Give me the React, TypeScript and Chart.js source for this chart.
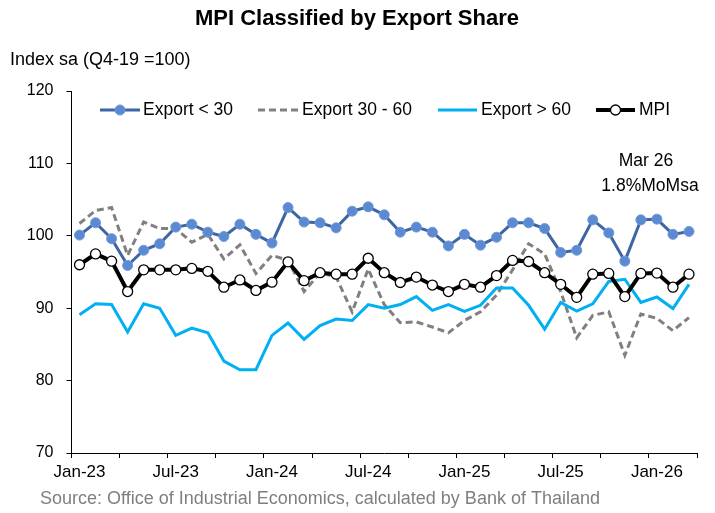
import React, { useEffect, useRef } from 'react';
import { Chart, registerables } from 'chart.js';

Chart.register(...registerables);

const FONT = "'Liberation Sans', Arial, sans-serif";

const TITLE = 'MPI Classified by Export Share';
const Y_TITLE = 'Index sa (Q4-19 =100)';
const SOURCE = 'Source: Office of Industrial Economics, calculated by Bank of Thailand';
const NOTE_LINES = ['Mar 26', '1.8%MoMsa'];

const months = [
  'Jan-23', 'Feb-23', 'Mar-23', 'Apr-23', 'May-23', 'Jun-23', 'Jul-23', 'Aug-23', 'Sep-23', 'Oct-23', 'Nov-23', 'Dec-23',
  'Jan-24', 'Feb-24', 'Mar-24', 'Apr-24', 'May-24', 'Jun-24', 'Jul-24', 'Aug-24', 'Sep-24', 'Oct-24', 'Nov-24', 'Dec-24',
  'Jan-25', 'Feb-25', 'Mar-25', 'Apr-25', 'May-25', 'Jun-25', 'Jul-25', 'Aug-25', 'Sep-25', 'Oct-25', 'Nov-25', 'Dec-25',
  'Jan-26', 'Feb-26', 'Mar-26',
];

const exportLt30 = [
  100.1, 101.8, 99.6, 95.9, 98.0, 98.9, 101.2, 101.6, 100.5, 99.9, 101.6, 100.2,
  99.0, 103.9, 101.9, 101.8, 101.1, 103.4, 104.0, 102.9, 100.5, 101.2, 100.5, 98.6,
  100.2, 98.7, 99.8, 101.8, 101.8, 101.0, 97.7, 98.0, 102.2, 100.4, 96.5, 102.2,
  102.3, 100.2, 100.6,
];

const export30to60 = [
  101.7, 103.5, 103.9, 97.3, 101.9, 101.0, 101.0, 99.1, 100.2, 96.8, 98.75, 94.8,
  97.3, 96.6, 92.3, 94.9, 94.3, 89.5, 95.4, 90.5, 88.0, 88.1, 87.4, 86.6,
  88.3, 89.5, 91.8, 95.3, 98.9, 97.5, 92.3, 85.9, 89.0, 89.5, 83.5, 89.2,
  88.6, 86.9, 88.7,
];

const exportGt60 = [
  89.1, 90.6, 90.5, 86.7, 90.6, 90.0, 86.25, 87.25, 86.6, 82.7, 81.5, 81.5,
  86.25, 87.95, 85.7, 87.6, 88.5, 88.3, 90.5, 90.0, 90.5, 91.6, 89.7, 90.5,
  89.55, 90.4, 92.8, 92.8, 90.4, 87.1, 90.8, 89.6, 90.6, 93.7, 94.0, 90.8,
  91.55, 89.95, 93.3,
];

const mpi = [
  96.0, 97.5, 96.5, 92.3, 95.3, 95.3, 95.3, 95.5, 95.1, 92.9, 93.9, 92.45,
  93.6, 96.4, 93.8, 94.9, 94.7, 94.7, 96.9, 94.9, 93.55, 94.3, 93.2, 92.3,
  93.3, 92.9, 94.5, 96.6, 96.45, 94.9, 93.3, 91.5, 94.7, 94.8, 91.6, 94.8,
  94.85, 92.9, 94.7,
];

const seriesNames = ['Export < 30', 'Export 30 - 60', 'Export > 60', 'MPI'];

const BLUE_LINE = '#3E66A3';
const BLUE_DOT = '#5B8AD2';
const GREY = '#808080';
const LIGHT_BLUE = '#00B0F0';

const textPlugin = {
  id: 'customTexts',
  afterDraw(chart: any) {
    const ctx = chart.ctx as CanvasRenderingContext2D;
    ctx.save();
    ctx.textBaseline = 'middle';

    // Title
    ctx.fillStyle = '#000';
    ctx.font = `bold 22px ${FONT}`;
    ctx.textAlign = 'center';
    ctx.fillText(TITLE, 357, 19);

    // Y axis title
    ctx.font = `18px ${FONT}`;
    ctx.textAlign = 'left';
    ctx.fillText(Y_TITLE, 10, 60);

    // Note
    ctx.textAlign = 'center';
    ctx.font = `17.5px ${FONT}`;
    ctx.fillText(NOTE_LINES[0], 646, 161);
    ctx.fillText(NOTE_LINES[1], 650, 186);

    // Source
    ctx.fillStyle = '#7F7F7F';
    ctx.textAlign = 'left';
    ctx.font = `18px ${FONT}`;
    ctx.fillText(SOURCE, 40, 499);

    // Legend
    const ly = 110;
    const items = [
      { x0: 100, x1: 140, tx: 143 },
      { x0: 258, x1: 298, tx: 302 },
      { x0: 438, x1: 477, tx: 481 },
      { x0: 596, x1: 635, tx: 639 },
    ];
    const ds = chart.data.datasets;
    items.forEach((it, k) => {
      const d = ds.find((q: any) => q.label === seriesNames[k]);
      ctx.save();
      ctx.strokeStyle = d.borderColor;
      ctx.lineWidth = d.borderWidth;
      ctx.setLineDash(d.borderDash || []);
      ctx.lineCap = 'butt';
      ctx.beginPath();
      ctx.moveTo(it.x0, ly);
      ctx.lineTo(it.x1, ly);
      ctx.stroke();
      ctx.setLineDash([]);
      if (d.pointRadius > 0) {
        ctx.beginPath();
        ctx.arc((it.x0 + it.x1) / 2, ly, d.pointRadius, 0, Math.PI * 2);
        ctx.fillStyle = d.pointBackgroundColor;
        ctx.fill();
        ctx.lineWidth = d.pointBorderWidth;
        ctx.strokeStyle = d.pointBorderColor;
        ctx.stroke();
      }
      ctx.restore();
      ctx.fillStyle = '#000';
      ctx.font = `17.5px ${FONT}`;
      ctx.textAlign = 'left';
      ctx.fillText(seriesNames[k], it.tx, ly);
    });

    ctx.restore();
  },
};

export default function App() {
  const canvasRef = useRef<HTMLCanvasElement | null>(null);

  useEffect(() => {
    document.body.style.margin = '0';
    const canvas = canvasRef.current;
    if (!canvas) return;

    const chart = new Chart(canvas, {
      type: 'line',
      data: {
        labels: months,
        datasets: [
          {
            label: seriesNames[3],
            data: mpi,
            borderColor: '#000000',
            borderWidth: 4,
            pointRadius: 5,
            pointBackgroundColor: '#FFFFFF',
            pointBorderColor: '#000000',
            pointBorderWidth: 1.3,
            tension: 0,
            order: 0,
          },
          {
            label: seriesNames[0],
            data: exportLt30,
            borderColor: BLUE_LINE,
            borderWidth: 3,
            pointRadius: 5,
            pointBackgroundColor: BLUE_DOT,
            pointBorderColor: '#6F98D8',
            pointBorderWidth: 1,
            tension: 0,
            order: 1,
          },
          {
            label: seriesNames[2],
            data: exportGt60,
            borderColor: LIGHT_BLUE,
            borderWidth: 3,
            pointRadius: 0,
            tension: 0,
            order: 2,
          },
          {
            label: seriesNames[1],
            data: export30to60,
            borderColor: GREY,
            borderWidth: 3,
            borderDash: [7, 4],
            pointRadius: 0,
            tension: 0,
            order: 3,
          },
        ],
      },
      options: {
        responsive: false,
        animation: false,
        events: [],
        layout: { padding: { top: 91, right: 18, bottom: 30, left: 0 } },
        plugins: {
          legend: { display: false },
          title: { display: false },
          tooltip: { enabled: false },
        },
        scales: {
          x: {
            type: 'category',
            offset: true,
            border: { display: true, color: '#000', width: 1 },
            grid: {
              offset: true,
              drawOnChartArea: false,
              drawTicks: true,
              tickLength: 5,
              color: '#000',
              tickColor: (c: any) =>
                c.type !== 'tick' || c.index % 3 === 0 ? '#000' : 'rgba(0,0,0,0)',
            },
            ticks: {
              autoSkip: false,
              maxRotation: 0,
              minRotation: 0,
              padding: 4,
              color: '#000',
              font: { family: FONT, size: 17 },
              callback: function (this: any, value: any, index: number) {
                return index % 6 === 0 ? this.getLabelForValue(value) : '';
              },
            },
            afterFit: (s: any) => {
              s.height = 30;
            },
          },
          y: {
            min: 70,
            max: 120,
            border: { display: true, color: '#000', width: 1 },
            grid: {
              drawOnChartArea: false,
              drawTicks: true,
              tickLength: 5,
              color: '#000',
            },
            ticks: {
              stepSize: 10,
              padding: 13,
              color: '#000',
              font: { family: FONT, size: 16 },
            },
            afterFit: (s: any) => {
              s.width = 71.5;
            },
          },
        },
      },
      plugins: [textPlugin],
    });

    return () => {
      chart.destroy();
    };
  }, []);

  return (
    <div style={{ width: 715, height: 513 }}>
      <canvas ref={canvasRef} width={715} height={513} style={{ display: 'block' }} />
    </div>
  );
}
